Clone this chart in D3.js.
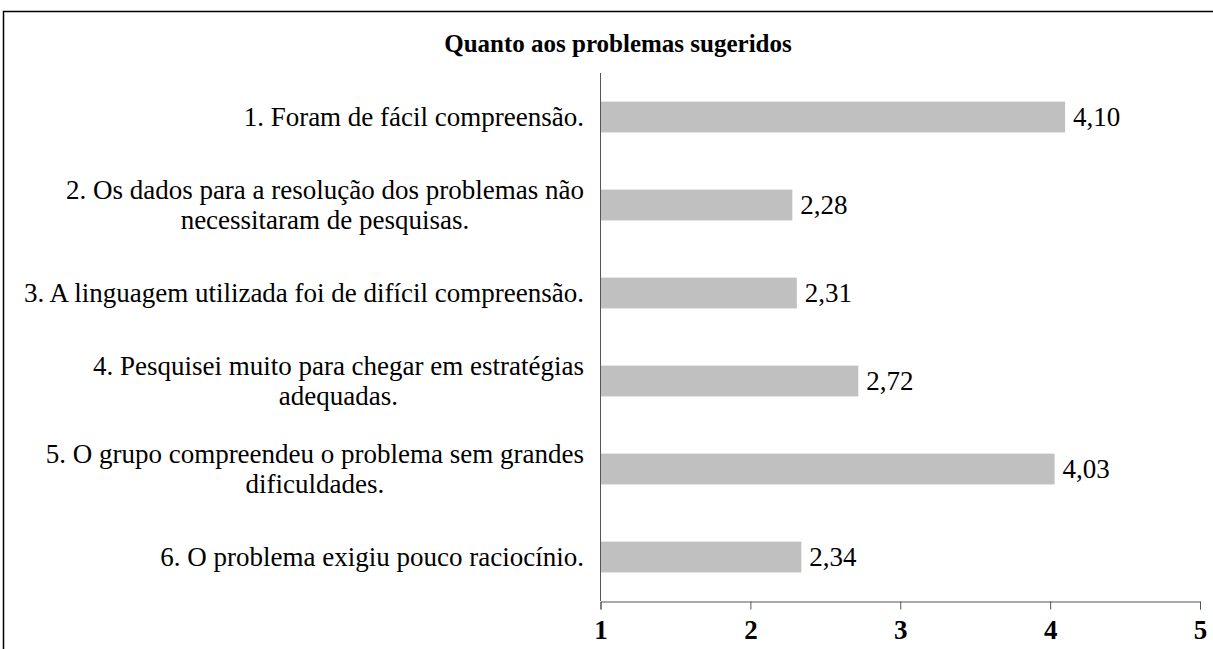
<!DOCTYPE html>
<html>
<head>
<meta charset="utf-8">
<script src="https://cdn.jsdelivr.net/npm/d3@7"></script>
<style>
  body { margin: 0; background: #fff; }
  svg { font-family: "Liberation Serif", "Times New Roman", serif; }
</style>
</head>
<body>
<script>
// data
var categories = [
  ["1. Foram de fácil compreensão."],
  ["2. Os dados para a resolução dos problemas não", "necessitaram de pesquisas."],
  ["3. A linguagem utilizada foi de difícil compreensão."],
  ["4. Pesquisei muito para chegar em estratégias", "adequadas."],
  ["5. O grupo compreendeu o problema sem grandes", "dificuldades."],
  ["6. O problema exigiu pouco raciocínio."]
];
var values = [4.10, 2.28, 2.31, 2.72, 4.03, 2.34];
var valueLabels = ["4,10", "2,28", "2,31", "2,72", "4,03", "2,34"];
var xTicks = [1, 2, 3, 4, 5];
var title = "Quanto aos problemas sugeridos";

var W = 1213, H = 649;
var margin = {top: 73, right: 13, bottom: 48, left: 600};
var width = W - margin.left - margin.right,
    height = H - margin.top - margin.bottom;

var svg = d3.select("body").append("svg")
    .attr("width", W)
    .attr("height", H);

// outer frame (top + left edges visible)
svg.append("path")
    .attr("d", "M3.5," + H + "V11.5H" + W)
    .attr("fill", "none")
    .attr("stroke", "#000")
    .attr("stroke-width", 1.5);

svg.append("text")
    .attr("x", 618)
    .attr("y", 52)
    .attr("text-anchor", "middle")
    .style("font-size", "25px")
    .style("font-weight", "bold")
    .text(title);

var g = svg.append("g")
    .attr("transform", "translate(" + margin.left + "," + margin.top + ")");

var x = d3.scaleLinear()
    .domain([1, 5])
    .range([0.5, 600]);
var y = d3.scaleBand()
    .domain(d3.range(categories.length))
    .range([0, height])
    .paddingInner(0.65)
    .paddingOuter(0.325);

// bars
g.selectAll(".bar")
    .data(values)
  .enter().append("rect")
    .attr("class", "bar")
    .attr("x", x(1))
    .attr("y", function(d, i) { return y(i); })
    .attr("width", function(d) { return x(d) - x(1); })
    .attr("height", y.bandwidth())
    .attr("fill", "#c0c0c0");

// value labels
g.selectAll(".val")
    .data(values)
  .enter().append("text")
    .attr("class", "val")
    .attr("x", function(d) { return x(d) + 8; })
    .attr("y", function(d, i) { return y(i) + y.bandwidth() / 2 + 9; })
    .style("font-size", "27px")
    .text(function(d, i) { return valueLabels[i]; });

// category labels: lines centred within a block right-aligned to the axis
var lineH = 30;
categories.forEach(function(lines, i) {
  var cy = y(i) + y.bandwidth() / 2;
  var t = g.append("text")
      .attr("text-anchor", "middle")
      .style("font-size", "27px");
  var tsp = lines.map(function(s, k) {
    return t.append("tspan")
        .attr("y", cy + 9 + (k - (lines.length - 1) / 2) * lineH)
        .text(s);
  });
  var maxW = d3.max(tsp, function(s) { return s.node().getComputedTextLength(); });
  tsp.forEach(function(s) { s.attr("x", -16 - maxW / 2); });
});

// y axis line
g.append("line")
    .attr("x1", 0.5).attr("x2", 0.5)
    .attr("y1", 0).attr("y2", height)
    .attr("stroke", "#555");

// x axis
var xAxis = g.append("g")
    .attr("transform", "translate(0," + (height + 0.5) + ")")
    .call(d3.axisBottom(x).tickValues(xTicks).tickSize(8).tickPadding(10).tickFormat(d3.format("d")));
xAxis.select(".domain").attr("stroke", "#555");
xAxis.selectAll(".tick line").attr("stroke", "#555");
xAxis.selectAll("text")
    .attr("fill", "#000")
    .style("font-family", "'Liberation Serif', serif")
    .style("font-size", "27px")
    .style("font-weight", "bold");
</script>
</body>
</html>
